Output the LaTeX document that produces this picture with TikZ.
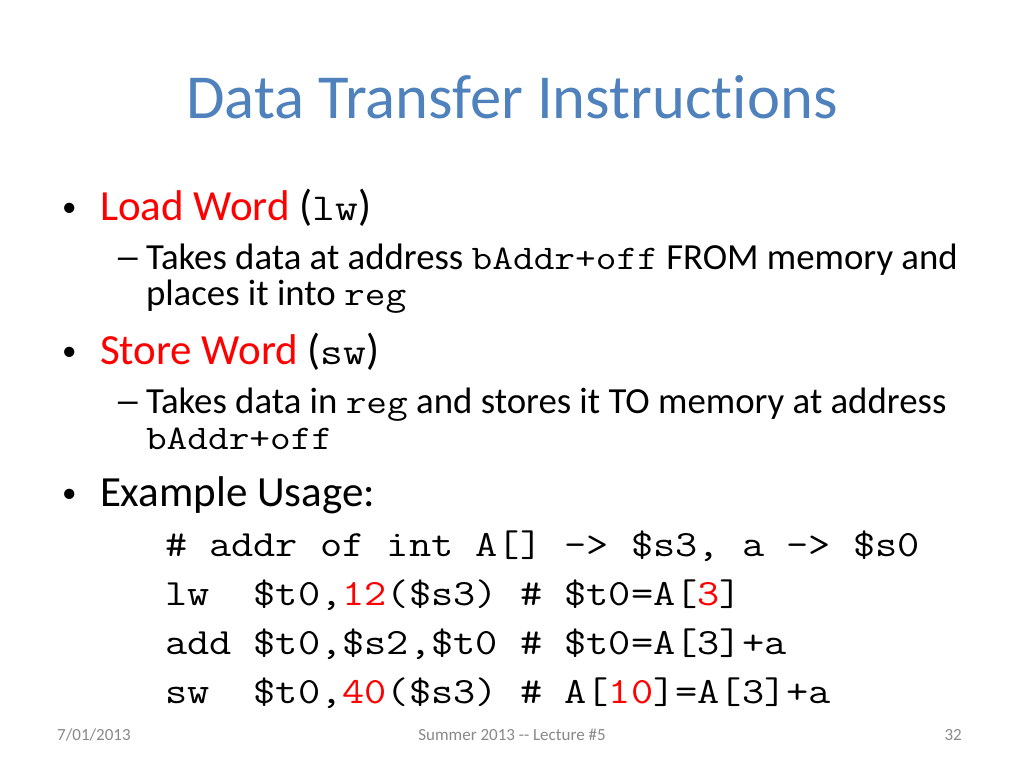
\documentclass[tikz,border=0pt]{standalone}
\usepackage{fontspec}
\setmainfont{Carlito}[Ligatures=NoCommon]
\newfontfamily\cour{Latin Modern Mono}[FakeStretch=1.165]
\definecolor{titleblue}{HTML}{4F81BD}
\definecolor{hotred}{HTML}{FF0000}
\definecolor{footgray}{HTML}{898989}
\begin{document}
\begin{tikzpicture}[x=1pt,y=-1pt,
  txt/.style={anchor=base west,inner sep=0pt,outer sep=0pt},
  lone/.style={txt,font=\fontsize{43}{48}\selectfont},
  ltwo/.style={txt,font=\fontsize{36.8}{40}\selectfont},
  bul/.style={txt,font=\fontsize{29}{32}\selectfont},
  code/.style={txt,font=\fontsize{37}{40}\cour},
  foot/.style={inner sep=0pt,anchor=base,font=\fontsize{17}{19}\selectfont,text=footgray}]
\useasboundingbox[fill=white] (0,0) rectangle (1024,768);
\node[inner sep=0pt,anchor=base,font=\fontsize{62.6}{66}\selectfont,text=titleblue] (title) at (512,118) {Data Transfer Instructions};

\node[bul] (b1) at (62,216) {•};
\node[lone] (lw) at (100,220) {\textcolor{hotred}{Load Word} ({\fontsize{38}{42}\cour lw})};
\node[ltwo] (d1) at (114,269) {\scalebox{1.5}[1]{–}};
\node[ltwo] (lwa) at (146,269) {Takes data at address {\fontsize{34.5}{38}\cour bAddr+off} FROM memory and};
\node[ltwo] (lwb) at (146,305) {places it into {\fontsize{34.5}{38}\cour reg}};

\node[bul] (b2) at (62,360) {•};
\node[lone] (sw) at (100,364) {\textcolor{hotred}{Store Word} ({\fontsize{38}{42}\cour sw})};
\node[ltwo] (d2) at (114,413) {\scalebox{1.5}[1]{–}};
\node[ltwo] (swa) at (146,413) {Takes data in {\fontsize{34.5}{38}\cour reg} and stores it TO memory at address};
\node[ltwo,font=\fontsize{34.5}{38}\cour] (swb) at (146,449) {bAddr+off};

\node[bul] (b3) at (62,502) {•};
\node[lone] (ex) at (100,506) {Example Usage:};

\node[code] (c1) at (165,556) {\#~addr~of~int~A[]~->~\$s3,~a~->~\$s0};
\node[code] (c2) at (165,605) {lw~~\$t0,\textcolor{hotred}{12}(\$s3)~\#~\$t0=A[\textcolor{hotred}{3}]};
\node[code] (c3) at (165,654) {add~\$t0,\$s2,\$t0~\#~\$t0=A[3]+a};
\node[code] (c4) at (165,703) {sw~~\$t0,\textcolor{hotred}{40}(\$s3)~\#~A[\textcolor{hotred}{10}]=A[3]+a};

\node[foot,anchor=base west] (date) at (57,740) {7/01/2013};
\node[foot] (lect) at (512,740) {Summer 2013 -{}- Lecture \#5};
\node[foot,anchor=base east] (num) at (962,740) {32};
\end{tikzpicture}
\end{document}
